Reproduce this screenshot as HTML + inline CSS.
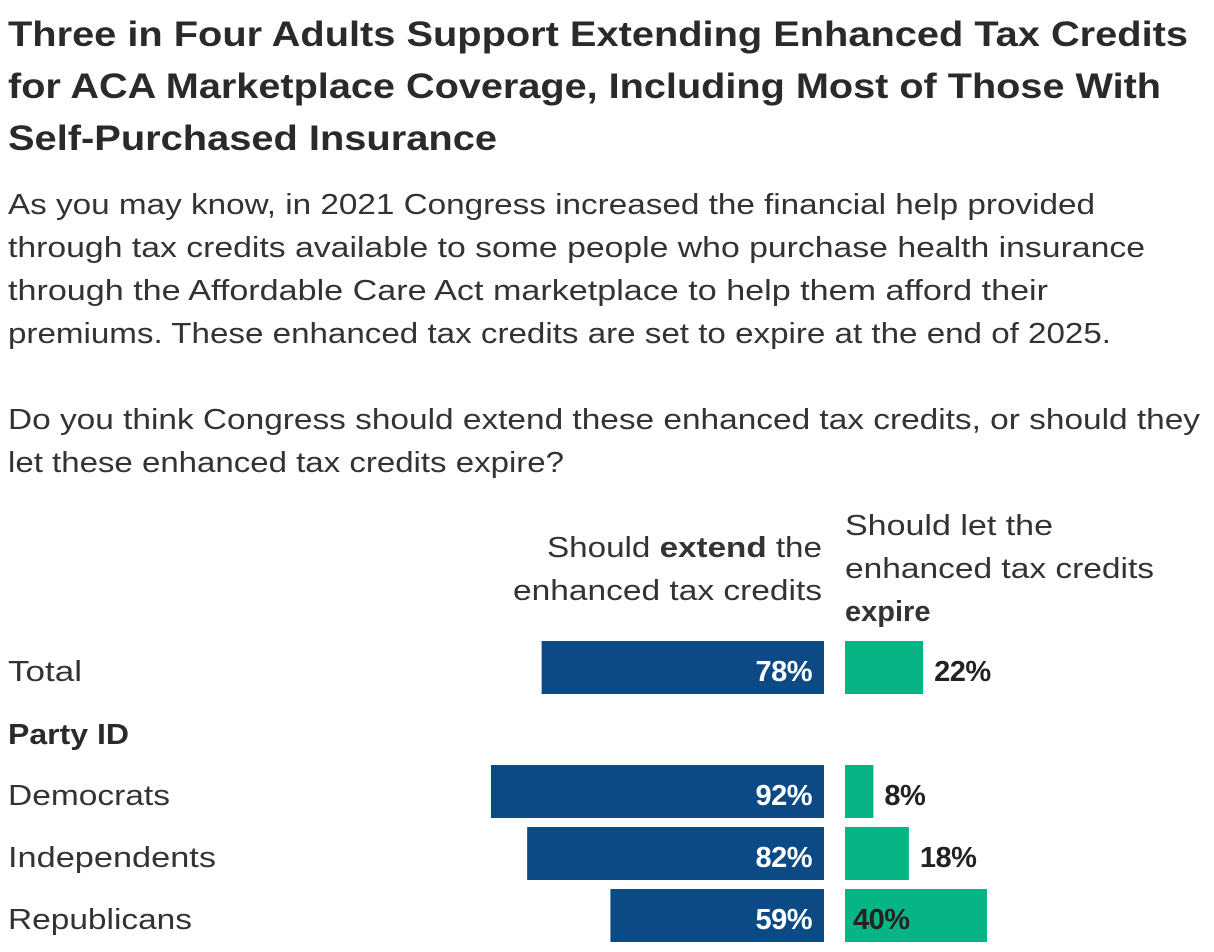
<!DOCTYPE html>
<html><head><meta charset="utf-8"><style>
html,body{margin:0;padding:0;background:#fff;}
svg{display:block;font-family:"Liberation Sans",sans-serif;}
</style></head><body>
<svg id="chart" width="1214" height="952" viewBox="0 0 1214 952">
<g fill="#2a2a2a" font-weight="bold" font-size="35">
<text x="8" y="46" textLength="1180" lengthAdjust="spacingAndGlyphs">Three in Four Adults Support Extending Enhanced Tax Credits</text>
<text x="8" y="98" textLength="1153" lengthAdjust="spacingAndGlyphs">for ACA Marketplace Coverage, Including Most of Those With</text>
<text x="8" y="150" textLength="489" lengthAdjust="spacingAndGlyphs">Self-Purchased Insurance</text>
</g>
<g fill="#333" font-size="29">
<text x="8" y="214" textLength="1087" lengthAdjust="spacingAndGlyphs">As you may know, in 2021 Congress increased the financial help provided</text>
<text x="8" y="257" textLength="1137" lengthAdjust="spacingAndGlyphs">through tax credits available to some people who purchase health insurance</text>
<text x="8" y="300" textLength="1040" lengthAdjust="spacingAndGlyphs">through the Affordable Care Act marketplace to help them afford their</text>
<text x="8" y="343" textLength="1103" lengthAdjust="spacingAndGlyphs">premiums. These enhanced tax credits are set to expire at the end of 2025.</text>
<text x="8" y="429" textLength="1192" lengthAdjust="spacingAndGlyphs">Do you think Congress should extend these enhanced tax credits, or should they</text>
<text x="8" y="472" textLength="556" lengthAdjust="spacingAndGlyphs">let these enhanced tax credits expire?</text>
</g>
<g fill="#333" font-size="29" text-anchor="end">
<text x="822" y="557" textLength="275" lengthAdjust="spacingAndGlyphs">Should <tspan font-weight="bold">extend</tspan> the</text>
<text x="822" y="600" textLength="309" lengthAdjust="spacingAndGlyphs">enhanced tax credits</text>
</g>
<g fill="#333" font-size="29">
<text x="845" y="535" textLength="208" lengthAdjust="spacingAndGlyphs">Should let the</text>
<text x="845" y="578" textLength="309" lengthAdjust="spacingAndGlyphs">enhanced tax credits</text>
<text x="845" y="621" font-weight="bold">expire</text>
</g>
<g id="rows"></g>
</svg>
<script>
const categories = ["Total", "Democrats", "Independents", "Republicans"];
const extendValues = [78, 92, 82, 59];
const expireValues = [22, 8, 18, 40];
const rowTops = {Total:641, Democrats:765, Independents:827, Republicans:889};
const labelWidths = {Total:74, Democrats:162, Independents:208, Republicans:184};
const NS = "http://www.w3.org/2000/svg";
const g = document.getElementById("rows");
const xExtend = v => v * 3.62;
const xExpire = v => v * 3.55;
function mk(tag, attrs, parent){const e=document.createElementNS(NS,tag);for(const k in attrs)e.setAttribute(k,attrs[k]);parent.appendChild(e);return e;}
const pl = mk("text",{x:8,y:744,"font-size":29,"font-weight":"bold",fill:"#2a2a2a",textLength:121,lengthAdjust:"spacingAndGlyphs"},g);
pl.textContent="Party ID";


categories.forEach((c,i)=>{
  const top = rowTops[c];
  const base = top + 40;
  const lab = mk("text",{x:8,y:base,"font-size":29,fill:"#333",textLength:labelWidths[c],lengthAdjust:"spacingAndGlyphs"},g);
  lab.textContent=c;
  
  
  const w = xExtend(extendValues[i]);
  const b = mk("rect",{x:824-w,y:top,width:w,height:53,fill:"#0b4a84"},g);
  
  
  const bt = mk("text",{x:812,y:base,"font-size":29,"font-weight":"bold",fill:"#fff","text-anchor":"end","letter-spacing":"-0.5"},g);
  bt.textContent=extendValues[i]+"%";
  
  
  const w2 = xExpire(expireValues[i]);
  const b2 = mk("rect",{x:845,y:top,width:w2,height:53,fill:"#06b486"},g);
  
  
  const inside = w2 > 100;
  const t2 = mk("text",{x: inside ? 853 : 845+w2+11,y:base,"font-size":29,"font-weight":"bold",fill:"#222","letter-spacing":"-0.5"},g);
  t2.textContent=expireValues[i]+"%";
  
  
});
</script>
</body></html>
